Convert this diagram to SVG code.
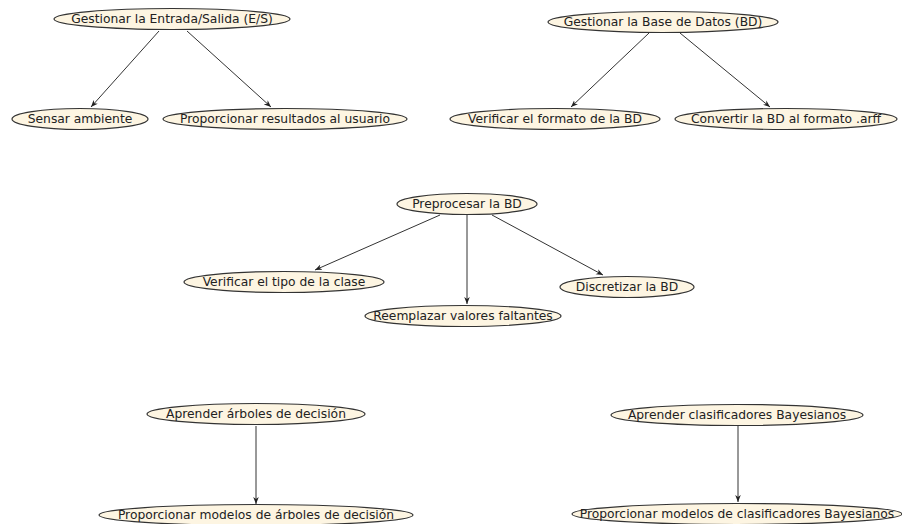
<svg xmlns="http://www.w3.org/2000/svg" width="902" height="524" viewBox="0 0 902 524">
<defs>
<marker id="arr" viewBox="0 0 10 10" refX="10" refY="5" markerWidth="7" markerHeight="7" orient="auto-start-reverse" markerUnits="userSpaceOnUse">
<path d="M0,1 L10,5 L0,9 L3,5 z" fill="#222"/>
</marker>
</defs>
<style>
.n ellipse{fill:#fdf5e2;stroke:#333;stroke-width:1.2}
.n text{font-family:"DejaVu Sans",sans-serif;font-size:12.3px;fill:#222;text-anchor:middle;dominant-baseline:central}
.e line{stroke:#333;stroke-width:1;marker-end:url(#arr)}
</style>
<rect width="902" height="524" fill="#fff"/>
<g id="edges" class="e">
<line x1="159" y1="31" x2="91" y2="107"/>
<line x1="187" y1="31" x2="271" y2="107"/>
<line x1="649" y1="33" x2="571" y2="107"/>
<line x1="680" y1="33" x2="770" y2="107"/>
<line x1="440" y1="215" x2="315" y2="270"/>
<line x1="467" y1="215" x2="467" y2="304"/>
<line x1="492" y1="215" x2="603" y2="275"/>
<line x1="256" y1="426" x2="256" y2="504"/>
<line x1="738" y1="426" x2="738" y2="502"/>
</g>
<g id="n1" class="n"><ellipse cx="172" cy="19" rx="118" ry="10.5"/><text x="172" y="18.5">Gestionar la Entrada/Salida (E/S)</text></g>
<g id="n2" class="n"><ellipse cx="80" cy="119" rx="68" ry="10.5"/><text x="80" y="118.5">Sensar ambiente</text></g>
<g id="n3" class="n"><ellipse cx="285" cy="119" rx="122" ry="10.5"/><text x="285" y="118.5">Proporcionar resultados al usuario</text></g>
<g id="n4" class="n"><ellipse cx="663" cy="22" rx="115" ry="10.5"/><text x="663" y="21.5">Gestionar la Base de Datos (BD)</text></g>
<g id="n5" class="n"><ellipse cx="555" cy="119" rx="105" ry="10.5"/><text x="555" y="118.5">Verificar el formato de la BD</text></g>
<g id="n6" class="n"><ellipse cx="786" cy="119" rx="111" ry="10.5"/><text x="786" y="118.5">Convertir la BD al formato .arff</text></g>
<g id="n7" class="n"><ellipse cx="467" cy="204" rx="70" ry="10.5"/><text x="467" y="203.5">Preprocesar la BD</text></g>
<g id="n8" class="n"><ellipse cx="284" cy="282" rx="100" ry="10.5"/><text x="284" y="281.5">Verificar el tipo de la clase</text></g>
<g id="n9" class="n"><ellipse cx="463" cy="316" rx="98" ry="10.5"/><text x="463" y="315.5">Reemplazar valores faltantes</text></g>
<g id="n10" class="n"><ellipse cx="627" cy="287" rx="67" ry="10.5"/><text x="627" y="286.5">Discretizar la BD</text></g>
<g id="n11" class="n"><ellipse cx="256" cy="414" rx="109" ry="10.5"/><text x="256" y="413.5">Aprender árboles de decisión</text></g>
<g id="n12" class="n"><ellipse cx="256" cy="515" rx="157" ry="10.5"/><text x="256" y="514.5">Proporcionar modelos de árboles de decisión</text></g>
<g id="n13" class="n"><ellipse cx="737" cy="415" rx="126" ry="10.5"/><text x="737" y="414.5">Aprender clasificadores Bayesianos</text></g>
<g id="n14" class="n"><ellipse cx="737" cy="514" rx="165" ry="10.5"/><text x="737" y="513.5">Proporcionar modelos de clasificadores Bayesianos</text></g>
</svg>
